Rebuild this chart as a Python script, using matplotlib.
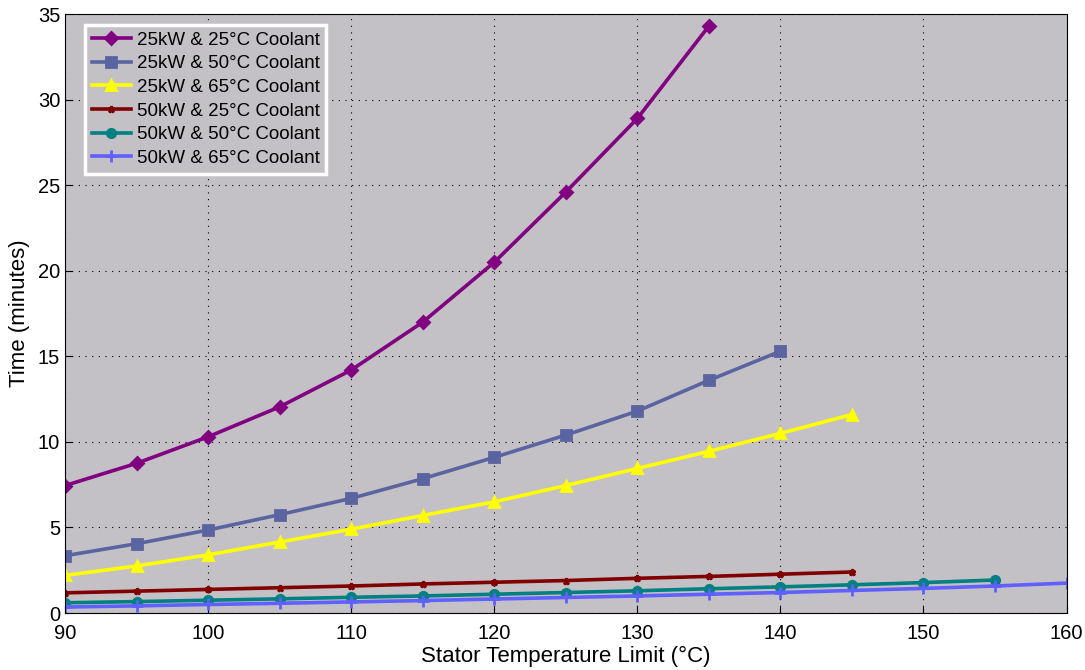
import numpy as np
import matplotlib
matplotlib.use('Agg')
import matplotlib.pyplot as plt

plt.rcParams['font.family'] = ['Liberation Sans', 'DejaVu Sans']

# stator temperature limit (degC)
temps_a = [90, 95, 100, 105, 110, 115, 120, 125, 130, 135]
temps_b = temps_a + [140]
temps_c = temps_b + [145]
temps_d = temps_c
temps_e = temps_c + [150, 155]
temps_f = temps_e + [160]

# time (minutes)
t_25kw_25c = [7.45, 8.75, 10.3, 12.05, 14.2, 17.0, 20.5, 24.6, 28.9, 34.3]
t_25kw_50c = [3.35, 4.05, 4.85, 5.75, 6.7, 7.85, 9.1, 10.4, 11.8, 13.6, 15.3]
t_25kw_65c = [2.2, 2.75, 3.4, 4.15, 4.9, 5.7, 6.5, 7.45, 8.45, 9.45, 10.5, 11.6]
t_50kw_25c = [1.18, 1.28, 1.38, 1.48, 1.58, 1.7, 1.8, 1.9, 2.03, 2.14, 2.27, 2.4]
t_50kw_50c = [0.6, 0.67, 0.75, 0.83, 0.92, 1.0, 1.1, 1.2, 1.3, 1.42, 1.53, 1.65, 1.78, 1.93]
t_50kw_65c = [0.35, 0.42, 0.5, 0.57, 0.65, 0.73, 0.82, 0.91, 1.0, 1.1, 1.2, 1.32, 1.44, 1.58, 1.75]

series = [
    (temps_a, t_25kw_25c, '25kW & 25\u00b0C Coolant', '#800080', 'D', 6),
    (temps_b, t_25kw_50c, '25kW & 50\u00b0C Coolant', '#5a64a0', 's', 7),
    (temps_c, t_25kw_65c, '25kW & 65\u00b0C Coolant', '#ffff00', '^', 7),
    (temps_d, t_50kw_25c, '50kW & 25\u00b0C Coolant', '#800000', '*', 5),
    (temps_e, t_50kw_50c, '50kW & 50\u00b0C Coolant', '#008080', 'o', 6),
    (temps_f, t_50kw_65c, '50kW & 65\u00b0C Coolant', '#6060ff', '+', 8),
]

fig = plt.figure(figsize=(10.85, 6.7), dpi=100)
ax = fig.add_axes([0.060, 0.085, 0.923, 0.894])
ax.set_facecolor('#c3c1c6')

for x, y, label, color, marker, ms in series:
    ax.plot(x, y, color=color, marker=marker, markersize=ms, linewidth=2.6,
            markeredgewidth=2, label=label)

ax.set_xlim(90, 160)
ax.set_ylim(0, 35)
ax.set_xticks(np.arange(90, 161, 10))
ax.set_yticks(np.arange(0, 36, 5))
ax.grid(True, color='black', linestyle=(0, (1, 5)), linewidth=0.8)
ax.tick_params(labelsize=14.5, direction='in', length=5)
ax.tick_params(axis='x', pad=8)
for s in ax.spines.values():
    s.set_color('black')

ax.set_xlabel('Stator Temperature Limit (\u00b0C)', fontsize=16, labelpad=2)
ax.set_ylabel('Time (minutes)', fontsize=16, labelpad=6)

leg = ax.legend(loc='upper left', fontsize=13.5, fancybox=False, framealpha=1,
                facecolor='#c3c1c6', edgecolor='white', handlelength=2.1,
                borderpad=0.35, labelspacing=0.35, handletextpad=0.3,
                borderaxespad=0, bbox_to_anchor=(0.02, 0.982))
leg.get_frame().set_linewidth(2.5)

fig.savefig('out.png', dpi=100)
